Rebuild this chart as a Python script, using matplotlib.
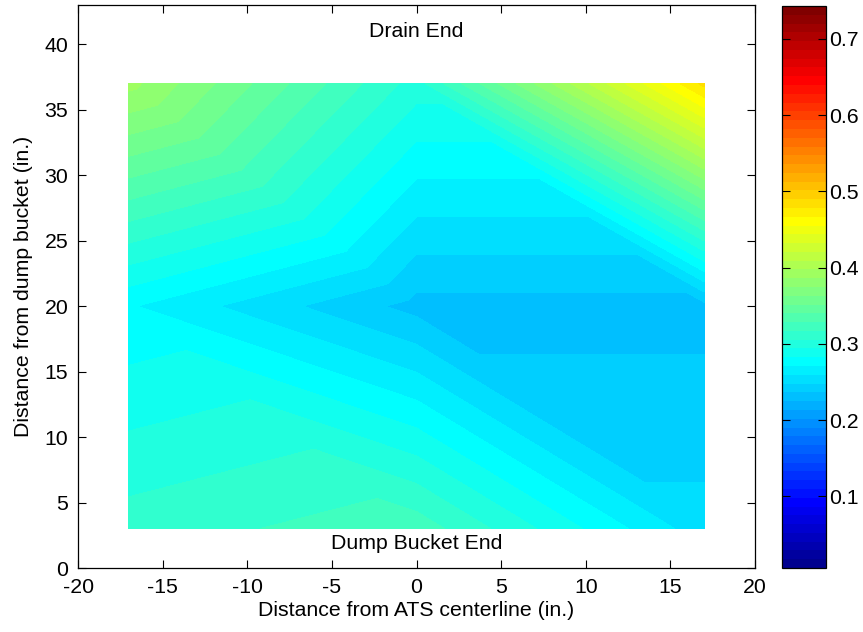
import numpy as np
import matplotlib
matplotlib.use("Agg")
import matplotlib.pyplot as plt
import matplotlib.tri as mtri
from matplotlib.colors import ListedColormap, Normalize
from matplotlib.cm import ScalarMappable

# Measurement grid (inches)
x_positions = [-17, 0, 17]          # distance from ATS centerline
y_positions = [3, 20, 37]           # distance from dump bucket
# Measured values, one row per y position (3, 20, 37), columns follow x_positions
row_y3 = [0.311, 0.324, 0.252]
row_y20 = [0.272, 0.232, 0.232]
row_y37 = [0.390, 0.300, 0.482]
color_limits = [0.006, 0.743]

x_ticks = [-20, -15, -10, -5, 0, 5, 10, 15, 20]
y_ticks = [0, 5, 10, 15, 20, 25, 30, 35, 40]
cbar_ticks = [0.1, 0.2, 0.3, 0.4, 0.5, 0.6, 0.7]


def matlab_jet(m=64):
    n = int(np.ceil(m / 4))
    u = np.concatenate([np.arange(1, n + 1) / n, np.ones(n - 1), np.arange(n, 0, -1) / n])
    g = int(np.ceil(n / 2)) - (1 if m % 4 == 1 else 0) + np.arange(1, len(u) + 1)
    r = g + n
    b = g - n
    r = r[r <= m]
    b = b[b >= 1]
    J = np.zeros((m, 3))
    J[r - 1, 0] = u[:len(r)]
    J[g[g <= m] - 1, 1] = u[:np.sum(g <= m)]
    J[b - 1, 2] = u[len(u) - len(b):]
    return J


plt.rcParams['font.family'] = ['Liberation Sans', 'DejaVu Sans']
plt.rcParams['axes.unicode_minus'] = False
FS = 15.3

fig = plt.figure(figsize=(8.63, 6.32), dpi=100)
ax = fig.add_axes([78 / 863, 1 - 568 / 632, 677 / 863, 563 / 632])
cax = fig.add_axes([782 / 863, 1 - 568 / 632, 44 / 863, 562 / 632])

# Build triangulated surface (each cell split along its top-left/bottom-right diagonal)
X, Y = np.meshgrid(x_positions, y_positions)
Z = np.array([row_y3, row_y20, row_y37])
nx, ny = len(x_positions), len(y_positions)
tris = []
for r in range(ny - 1):
    for c in range(nx - 1):
        bl = r * nx + c
        br = r * nx + c + 1
        tl = (r + 1) * nx + c
        tr = (r + 1) * nx + c + 1
        tris.append([tl, tr, br])
        tris.append([tl, bl, br])
tri = mtri.Triangulation(X.ravel(), Y.ravel(), np.array(tris))

ncolors = 64
cmap = ListedColormap(matlab_jet(ncolors))
levels = np.linspace(color_limits[0], color_limits[1], ncolors + 1)
cs = ax.tricontourf(tri, Z.ravel(), levels=levels, cmap=cmap,
                    vmin=color_limits[0], vmax=color_limits[1], antialiased=False)

ax.set_xlim(-20, 20)
ax.set_ylim(0, 43)
ax.set_xticks(x_ticks)
ax.set_yticks(y_ticks)
ax.tick_params(direction='in', length=6, width=0.8, top=True, right=True,
               labelsize=FS, pad=7, colors='black')
for s in ax.spines.values():
    s.set_linewidth(0.9)
ax.set_xlabel('Distance from ATS centerline (in.)', fontsize=FS, labelpad=3)
ax.set_ylabel('Distance from dump bucket (in.)', fontsize=FS, labelpad=8)

ax.text(0, 41.0, 'Drain End', ha='center', va='center', fontsize=FS)
ax.text(0, 1.9, 'Dump Bucket End', ha='center', va='center', fontsize=FS)

sm = ScalarMappable(norm=Normalize(*color_limits), cmap=cmap)
cb = fig.colorbar(sm, cax=cax, ticks=cbar_ticks)
cb.ax.tick_params(direction='in', length=6, width=0.8, left=True, right=True,
                  labelsize=FS, pad=2)
cb.ax.set_yticklabels([f'{t:.1f}' for t in cbar_ticks])
cb.outline.set_linewidth(0.9)

fig.savefig('out.png', dpi=100)
